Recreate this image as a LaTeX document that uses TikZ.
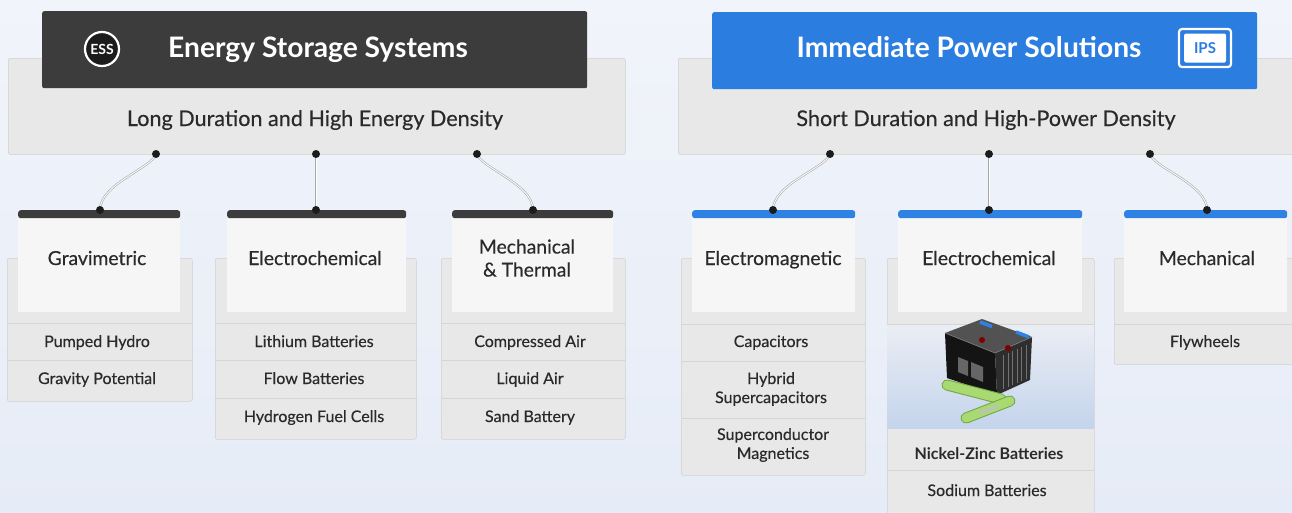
\documentclass[tikz,border=0pt]{standalone}
\usepackage{fontspec}
\setmainfont{Lato}
\newfontfamily\midfont{Lato}[FakeBold=0.35]
\usetikzlibrary{positioning,calc}
\definecolor{pagetop}{HTML}{F1F4FA}
\definecolor{pagebg}{HTML}{E6ECF7}
\definecolor{boxgrey}{HTML}{E8E8E8}
\definecolor{edgegrey}{HTML}{D0D0D0}
\definecolor{cardwhite}{HTML}{F6F6F6}
\definecolor{inkdark}{HTML}{3C3C3C}
\definecolor{ipsblue}{HTML}{2B7DE0}
\definecolor{barblue}{HTML}{2F81E4}
\definecolor{textdark}{HTML}{2A2A2A}
\definecolor{pinblack}{HTML}{1C1C1C}
\definecolor{sepgrey}{HTML}{D5D5D5}
\definecolor{wiregrey}{HTML}{A8A8A8}
\definecolor{picsky}{HTML}{C4D4EC}
\definecolor{pictop}{HTML}{EBEEF4}
\definecolor{cellgreen}{HTML}{A9DA72}
\definecolor{celledge}{HTML}{6FA646}
\tikzset{
    panel/.style={draw=edgegrey, fill=boxgrey, line width=0.6pt, rounded corners=2pt, anchor=north west, inner sep=0pt},
    banner/.style={rounded corners=2pt, anchor=north west, inner sep=0pt, minimum width=545pt, minimum height=77pt},
    cardback/.style={draw=edgegrey, fill=boxgrey, line width=0.5pt, rounded corners=2pt, anchor=north west, inner sep=0pt},
    cardhead/.style={fill=cardwhite, anchor=north west, inner sep=0pt, minimum height=102pt},
    topbar/.style={rounded corners=2.5pt, anchor=north west, inner sep=0pt, minimum height=8pt},
    pin/.style={circle, fill=pinblack, inner sep=0pt, minimum size=8pt},
    wire/.style={draw=wiregrey, double=white, double distance=0.9pt, line width=0.6pt},
    heading/.style={font=\fontsize{28.2}{30}\selectfont\bfseries, text=white, anchor=base},
    subhead/.style={font=\fontsize{21.6}{24}\midfont, text=textdark, anchor=base},
    cardtitle/.style={font=\fontsize{19.3}{23}\midfont, text=textdark, align=center},
    item/.style={font=\fontsize{16}{19}\midfont, text=textdark, align=center},
    rowline/.style={draw=sepgrey, line width=0.8pt}
}
\begin{document}
\begin{tikzpicture}[x=1pt, y=-1pt]
    \useasboundingbox (0,0) rectangle (1292,512);
    \fill[top color=pagetop, bottom color=pagebg] (0,0) rectangle (1292,512);

    % headers
    \node[panel, minimum width=617pt, minimum height=96pt] (longbox) at (8,58) {};
    \node[banner, fill=inkdark] (essbar) at (42,11) {};
    \node[heading] (esstitle) at (318,57) {Energy Storage Systems};
    \node[circle, fill=pinblack, draw=white, line width=2.2pt, minimum size=34pt, inner sep=0pt, text=white, font=\fontsize{14}{14}\selectfont\bfseries] (ess) at (102,49) {ESS};
    \node[subhead] (longsub) at (315,126) {Long Duration and High Energy Density};

    \node[panel, minimum width=640pt, minimum height=96pt] (shortbox) at (678,58) {};
    \node[banner, fill=ipsblue] (ipsbar) at (712,12) {};
    \node[heading] (ipstitle) at (969,57) {Immediate Power Solutions};
    \node[draw=white, line width=2.2pt, rounded corners=3pt, minimum width=52pt, minimum height=38pt] (ipsframe) at (1205,48) {};
    \node[fill=white, rounded corners=1.5pt, minimum width=42pt, minimum height=29pt, inner sep=0pt, text=ipsblue, font=\fontsize{15}{15}\selectfont\bfseries] (ips) at (1205,48) {IPS};
    \node[subhead] (shortsub) at (986,126) {Short Duration and High-Power Density};

    % cards, left side
    \node[cardback, minimum width=185pt, minimum height=143pt] (grav) at (7,258) {};
    \node[cardhead, minimum width=162pt] (gravhead) at (18,210) {};
    \node[topbar, fill=inkdark, minimum width=162pt] (gravbar) at (18,210) {};
    \node[cardtitle, anchor=base] at (97,265) {Gravimetric};
    \draw[rowline] (7,323) -- (192,323);
    \draw[rowline] (7,360) -- (192,360);
    \node[item, anchor=base] (pumped) at (97,347) {Pumped Hydro};
    \node[item, anchor=base] (gravity) at (97,384) {Gravity Potential};

    \node[cardback, minimum width=201pt, minimum height=181pt] (chemL) at (215,258) {};
    \node[cardhead, minimum width=179pt] (chemLhead) at (227,210) {};
    \node[topbar, fill=inkdark, minimum width=179pt] (chemLbar) at (227,210) {};
    \node[cardtitle, anchor=base] at (315,265) {Electrochemical};
    \draw[rowline] (215,323) -- (416,323);
    \draw[rowline] (215,360) -- (416,360);
    \draw[rowline] (215,398) -- (416,398);
    \node[item, anchor=base] (lithium) at (314,347) {Lithium Batteries};
    \node[item, anchor=base] (flow) at (314,384) {Flow Batteries};
    \node[item, anchor=base] (hydrogen) at (314,422) {Hydrogen Fuel Cells};

    \node[cardback, minimum width=184pt, minimum height=181pt] (mech) at (441,258) {};
    \node[cardhead, minimum width=161pt] (mechhead) at (452,210) {};
    \node[topbar, fill=inkdark, minimum width=161pt] (mechbar) at (452,210) {};
    \node[cardtitle] at (527,258) {Mechanical\\\& Thermal};
    \draw[rowline] (441,323) -- (625,323);
    \draw[rowline] (441,360) -- (625,360);
    \draw[rowline] (441,398) -- (625,398);
    \node[item, anchor=base] (compressed) at (530,347) {Compressed Air};
    \node[item, anchor=base] (liquid) at (530,384) {Liquid Air};
    \node[item, anchor=base] (sand) at (530,422) {Sand Battery};

    % cards, right side
    \node[cardback, minimum width=184pt, minimum height=217pt] (magn) at (681,258) {};
    \node[cardhead, minimum width=163pt] (magnhead) at (692,210) {};
    \node[topbar, fill=barblue, minimum width=163pt] (magnbar) at (692,210) {};
    \node[cardtitle, anchor=base] at (773,265) {Electromagnetic};
    \draw[rowline] (681,324) -- (865,324);
    \draw[rowline] (681,361) -- (865,361);
    \draw[rowline] (681,418) -- (865,418);
    \node[item, anchor=base] (capacitors) at (771,347) {Capacitors};
    \node[item] (hybrid) at (771,389) {Hybrid\\Supercapacitors};
    \node[item] (supercond) at (773,445) {Superconductor\\Magnetics};

    \node[cardback, minimum width=207pt, minimum height=270pt] (chemR) at (887,258) {};
    \node[cardhead, minimum width=184pt] (chemRhead) at (898,210) {};
    \node[topbar, fill=barblue, minimum width=184pt] (chemRbar) at (898,210) {};
    \node[cardtitle, anchor=base] at (989,265) {Electrochemical};
    \fill[top color=pictop, bottom color=picsky] (887.5,324) rectangle (1093.5,428);
    \draw[rowline] (887,324) -- (1094,324);
    \draw[rowline] (887,470) -- (1094,470);
    \node[item, anchor=base, font=\fontsize{16}{19}\selectfont\bfseries] (nickel) at (989,459) {Nickel-Zinc Batteries};
    \node[item, anchor=base] (sodium) at (987,496) {Sodium Batteries};

    % battery picture
    \fill[black!68] (945,333) -- (982,319) -- (1032,337) -- (995,353) -- cycle;
    \fill[black!92] (945,333) -- (995,353) -- (997,395) -- (947,378) -- cycle;
    \fill[black!82] (995,353) -- (1032,337) -- (1030,380) -- (997,395) -- cycle;
    \draw[black!50, line width=0.6pt] (945,333) -- (995,353) -- (1032,337);
    \draw[barblue, line width=3.5pt] (980,322) -- (992,326.5);
    \draw[barblue, line width=3.5pt] (1016,332) -- (1029,337);
    \fill[red!50!black] (982,340) circle (3pt);
    \fill[red!50!black] (1008,348) circle (3pt);
    \fill[black!60] (958,357) -- (968,361) -- (968,376) -- (958,372) -- cycle;
    \fill[black!60] (971,362) -- (983,367) -- (983,382) -- (971,377) -- cycle;
    \foreach \k in {1,...,6}
        \draw[black!55, line width=0.8pt] (999+4.5*\k,357-2*\k) -- (999+4.5*\k,391-2*\k);
    \draw[celledge, line width=11pt, line cap=round] (947,385) -- (1001,399);
    \draw[cellgreen, line width=9pt, line cap=round] (947,385) -- (1001,399);
    \draw[celledge, line width=11pt, line cap=round] (966,418) -- (1010,401);
    \draw[cellgreen, line width=9pt, line cap=round] (966,418) -- (1010,401);
    \draw[black!25, line width=3pt] (980,413) -- (998,406);

    \node[cardback, minimum width=190pt, minimum height=106pt] (fly) at (1114,258) {};
    \node[cardhead, minimum width=163pt] (flyhead) at (1124,210) {};
    \node[topbar, fill=barblue, minimum width=163pt] (flybar) at (1124,210) {};
    \node[cardtitle, anchor=base] at (1207,265) {Mechanical};
    \draw[rowline] (1114,324) -- (1304,324);
    \node[item, anchor=base] (flywheels) at (1205,347) {Flywheels};

    % connectors
    \coordinate (s1) at (156,154);
    \coordinate (s2) at (316,154);
    \coordinate (s3) at (477,154);
    \coordinate (b1) at (100,210);
    \coordinate (b2) at (316,210);
    \coordinate (b3) at (533,210);
    \coordinate (s4) at (830,154);
    \coordinate (s5) at (989,154);
    \coordinate (s6) at (1150,154);
    \coordinate (b4) at (773,210);
    \coordinate (b5) at (989,210);
    \coordinate (b6) at (1207,210);

    \draw[wire] (s1) .. controls +(-4,14) and +(0,-26) .. (b1);
    \draw[wire] (s2) -- (b2);
    \draw[wire] (s3) .. controls +(4,14) and +(0,-26) .. (b3);
    \draw[wire] (s4) .. controls +(-4,14) and +(0,-26) .. (b4);
    \draw[wire] (s5) -- (b5);
    \draw[wire] (s6) .. controls +(4,14) and +(0,-26) .. (b6);

    \foreach \p in {s1,s2,s3,s4,s5,s6,b1,b2,b3,b4,b5,b6}
        \node[pin] (\p dot) at (\p) {};
\end{tikzpicture}
\end{document}
